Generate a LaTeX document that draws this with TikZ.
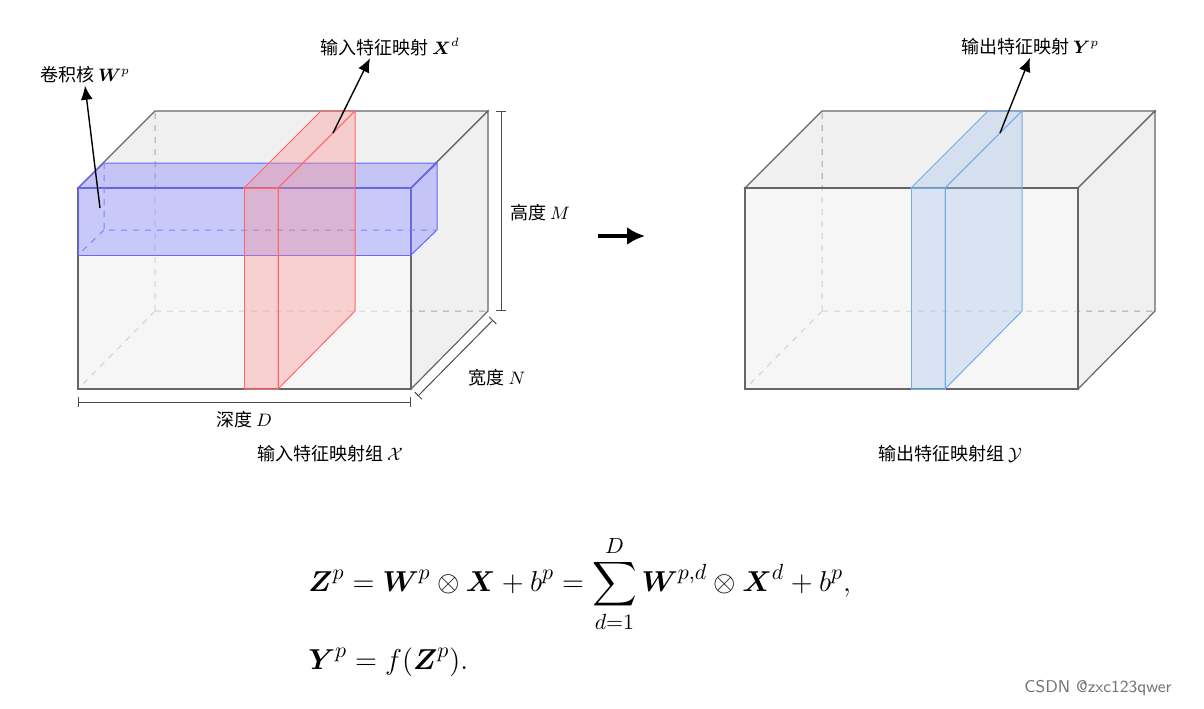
\documentclass[tikz,border=0pt]{standalone}
\usepackage{amsmath,amssymb}
\usepackage{fontspec}
\newfontfamily\cjk{Noto Sans CJK SC}
\usetikzlibrary{arrows.meta}
\definecolor{skyblue}{RGB}{120,170,230}
\tikzset{
  boxface/.style={draw=black!60, fill=black!6, line width=.6pt},
  hidden/.style={draw=black!35, dashed, line width=.5pt},
  blueslab/.style={draw=blue!60, fill=blue!55, fill opacity=.35, line width=.5pt},
  redslab/.style={draw=red!60, fill=red!45, fill opacity=.35, line width=.5pt},
  lightslab/.style={draw=skyblue, fill=skyblue!70, fill opacity=.35, line width=.5pt},
  lbl/.style={font=\cjk\fontsize{9}{11}\selectfont, inner sep=1pt},
  pointer/.style={-{Latex[length=7pt,width=6pt]}, line width=.7pt},
  dimline/.style={{|[width=5pt]}-{|[width=5pt]}, draw=black!70, line width=.5pt}
}
\begin{document}
\begin{tikzpicture}[x=.5pt, y=-.5pt]
	\useasboundingbox (0,0) rectangle (1204,708);
	% input cube
	\draw[boxface] (78,188) -- (155,111) -- (488,111) -- (411,188) -- cycle;
	\draw[boxface] (411,188) -- (488,111) -- (488,311) -- (411,389) -- cycle;
	\draw[hidden] (155,311) -- (78,389) (155,311) -- (488,311) (155,311) -- (155,111);
	\draw[boxface, fill opacity=.6] (78,188) rectangle (411,389);
	% kernel slab
	\draw[blueslab] (78,188) -- (104,163) -- (437,163) -- (411,188) -- cycle;
	\draw[blueslab] (411,188) -- (437,163) -- (437,230) -- (411,255) -- cycle;
	\draw[blueslab] (78,188) rectangle (411,255);
	\draw[hidden, draw=blue!50] (104,163) -- (104,230) -- (437,230) (104,230) -- (78,255);
	% input map slab
	\draw[redslab] (244,188) -- (321,111) -- (355,111) -- (278,188) -- cycle;
	\draw[redslab] (278,188) -- (355,111) -- (355,311) -- (278,389) -- cycle;
	\draw[redslab] (244,188) rectangle (278,389);
	% output cube
	\draw[boxface] (745,188) -- (822,111) -- (1155,111) -- (1078,188) -- cycle;
	\draw[boxface] (1078,188) -- (1155,111) -- (1155,311) -- (1078,389) -- cycle;
	\draw[hidden] (822,311) -- (745,389) (822,311) -- (1155,311) (822,311) -- (822,111);
	\draw[boxface, fill opacity=.6] (745,188) rectangle (1078,389);
	\draw[lightslab] (911,188) -- (988,111) -- (1022,111) -- (945,188) -- cycle;
	\draw[lightslab] (945,188) -- (1022,111) -- (1022,311) -- (945,389) -- cycle;
	\draw[lightslab] (911,188) rectangle (945,389);
	% dimensions
	\coordinate (h1) at (501,111); \coordinate (h2) at (501,311);
	\coordinate (w1) at (493,320); \coordinate (w2) at (418,396);
	\coordinate (d1) at (78,402);  \coordinate (d2) at (411,402);
	\draw[dimline] (h1) -- (h2);
	\draw[dimline] (w1) -- (w2);
	\draw[dimline] (d1) -- (d2);
	\node[lbl] (hgt) at (540,213) {高度 $M$};
	\node[lbl] (wid) at (497,378) {宽度 $N$};
	\node[lbl] (dep) at (244,420) {深度 $D$};
	\node[lbl] (inset) at (330,454) {输入特征映射组 $\mathcal{X}$};
	\node[lbl] (outset) at (950,454) {输出特征映射组 $\mathcal{Y}$};
	% pointers
	\coordinate (kp) at (100,208); \coordinate (ip) at (333,133); \coordinate (op) at (1000,133);
	\node[lbl] (kern) at (85,75) {卷积核 $\boldsymbol{W}^p$};
	\node[lbl] (inmap) at (390,47) {输入特征映射 $\boldsymbol{X}^d$};
	\node[lbl] (outmap) at (1030,47) {输出特征映射 $\boldsymbol{Y}^p$};
	\draw[pointer] (kp) -- (kern.south);
	\draw[pointer] (ip) -- ([xshift=-10pt]inmap.south);
	\draw[pointer] (op) -- (outmap.south);
	\coordinate (a1) at (598,236); \coordinate (a2) at (645,236);
	\draw[-{Latex[length=9pt,width=9pt]}, line width=2pt] (a1) -- (a2);
	% equations
	\node[anchor=west, inner sep=0pt, font=\fontsize{15.5}{18}\selectfont] (eq) at (308,608) {$\begin{aligned}
		&\boldsymbol{Z}^p = \boldsymbol{W}^p \otimes \boldsymbol{X} + b^p = \sum_{d=1}^{D} \boldsymbol{W}^{p,d} \otimes \boldsymbol{X}^d + b^p,\\[2pt]
		&\boldsymbol{Y}^p = f(\boldsymbol{Z}^p).
	\end{aligned}$};
	\node[lbl, text=black!55, font=\fontsize{8.5}{10}\selectfont\sffamily] (mark) at (1098,688) {CSDN @zxc123qwer};
\end{tikzpicture}
\end{document}
